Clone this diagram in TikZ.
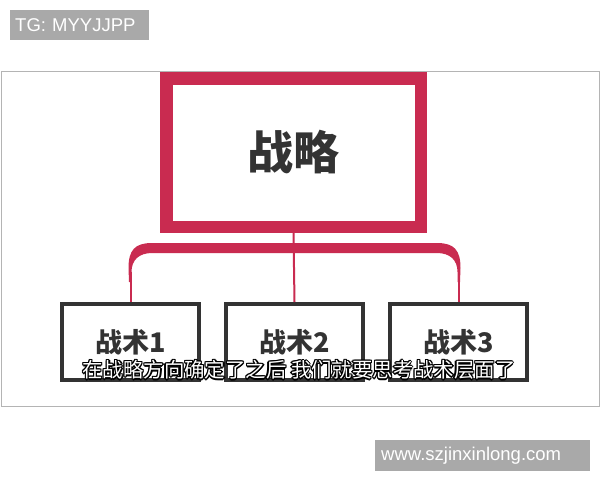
\documentclass[tikz,border=0pt]{standalone}
\usepackage{fontspec}
\newfontfamily\cjk{Noto Sans CJK SC}
\newfontfamily\wmfont{Liberation Sans}
\definecolor{zlred}{HTML}{C92B50}
\definecolor{zsgray}{HTML}{333333}
\definecolor{wmgray}{HTML}{A9A9A9}
\definecolor{framegray}{HTML}{B4B4B4}
% white text with a black outline
\newcommand\subcopy[3]{\rlap{\kern#1\raisebox{#2}{\textcolor{black}{#3}}}}
\newcommand\suboutline[1]{\leavevmode
    \subcopy{-1.3pt}{0pt}{#1}\subcopy{1.3pt}{0pt}{#1}%
    \subcopy{0pt}{1.3pt}{#1}\subcopy{0pt}{-1.3pt}{#1}%
    \subcopy{-0.92pt}{0.92pt}{#1}\subcopy{0.92pt}{0.92pt}{#1}%
    \subcopy{-0.92pt}{-0.92pt}{#1}\subcopy{0.92pt}{-0.92pt}{#1}%
    \textcolor{white}{#1}}

\begin{document}
\begin{tikzpicture}[x=1pt,y=1pt]
    \tikzstyle{every node}+=[inner sep=0pt]
    \tikzstyle{zsbox}=[draw=zsgray, line width=4pt, fill=white, minimum width=137pt, minimum height=76pt, text=zsgray, font=\cjk\bfseries\fontsize{27}{32}\selectfont]
    \tikzstyle{wmbox}=[fill=wmgray, text=white, anchor=north west, font=\wmfont\fontsize{18.5}{22}\selectfont, align=left, inner xsep=5pt]
    \tikzstyle{subfont}=[font=\cjk\fontsize{20.4}{24}\selectfont]
    \useasboundingbox (0,0) rectangle (600,-480);
    \fill [white] (0,0) rectangle (600,-480);
    % frame of the slide
    \draw [framegray, line width=1pt] (1,-71.5) rectangle (599,-406.5);
    % top box
    \node [draw=zlred, line width=12.5pt, fill=white, minimum width=254.5pt, minimum height=148.5pt, text=zsgray, font=\cjk\bfseries\fontsize{46}{54}\selectfont] (zl) at (293.5,-152.5) {战略};
    % lower boxes
    \node [zsbox] (zs1) at (130.5,-342) {战术1};
    \node [zsbox] (zs2) at (294.5,-342) {战术2};
    \node [zsbox] (zs3) at (458.5,-342) {战术3};
    % bracket
    \coordinate (bl) at (130.5,-272);
    \coordinate (br) at (458.5,-272);
    \fill [zlred] (129,-282) -- (128.5,-268) .. controls (128.5,-250) and (135,-243) .. (152,-243)
        -- (437,-243) .. controls (454,-243) and (460.5,-250) .. (460.5,-268) -- (460,-282)
        -- (457.5,-282) -- (457.5,-272) .. controls (457.5,-260) and (450,-253) .. (437,-253)
        -- (152,-253) .. controls (139,-253) and (131.5,-260) .. (131.5,-272) -- (131.5,-282) -- cycle;
    \draw [zlred, line width=2pt] (zs1.north) -- (bl);
    \draw [zlred, line width=2pt] (zs3.north) -- (br);
    \draw [zlred, line width=2pt] (zl.south) -- (zs2.north);
    % subtitle
    \node [subfont] (sub) at (299,-370) {\suboutline{在战略方向确定了之后 我们就要思考战术层面了}};
    % watermarks
    \node [wmbox, text width=129pt, minimum height=30pt] (tg) at (10,-10) {TG: MYYJJPP};
    \node [wmbox, text width=203pt, minimum height=31pt, inner xsep=6pt] (www) at (375,-440) {www.szjinxinlong.com};
\end{tikzpicture}
\end{document}
